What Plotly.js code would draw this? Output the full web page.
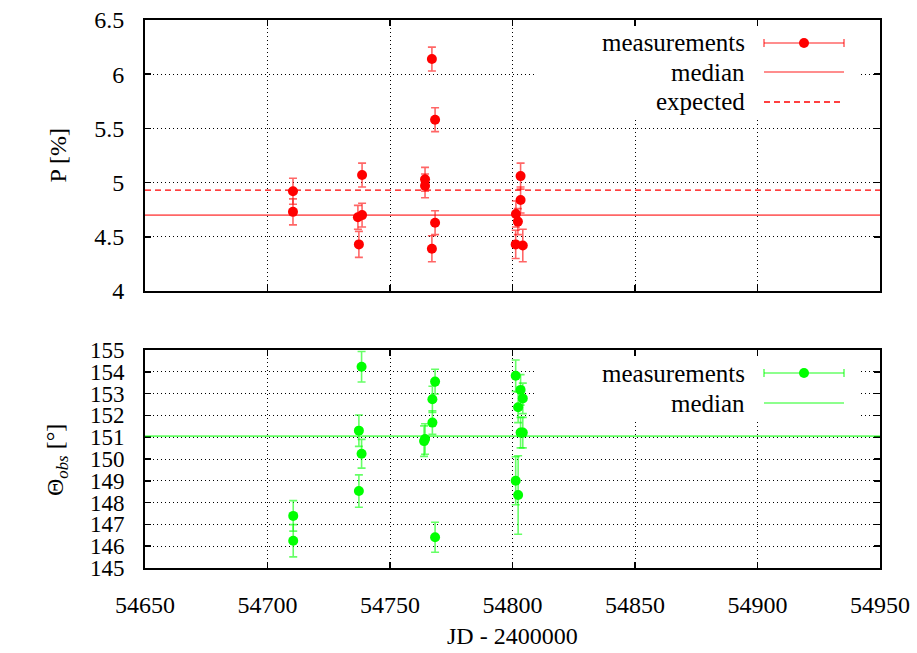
<!DOCTYPE html>
<html>
<head>
<meta charset="utf-8">
<script src="https://cdn.plot.ly/plotly-3.0.1.min.js"></script>
<style>html,body{margin:0;padding:0;background:#fff;}#chart{width:917px;height:653px;}</style>
</head>
<body>
<div id="chart"></div>
<script>
// ---- data ----
const JD_P = [54710.4, 54710.4, 54738.6, 54738.6, 54736.9, 54737.3,
              54767.1, 54768.4, 54764.3, 54764.3, 54768.4, 54767.1,
              54803.3, 54803.3, 54801.4, 54802.2, 54801.3, 54804.2];
const P = [4.92, 4.73, 5.07, 4.70, 4.68, 4.43,
           6.14, 5.58, 5.03, 4.97, 4.63, 4.39,
           5.06, 4.84, 4.71, 4.64, 4.43, 4.42];
const P_ERR = [0.12, 0.12, 0.11, 0.11, 0.11, 0.12,
               0.11, 0.11, 0.11, 0.11, 0.11, 0.12,
               0.12, 0.12, 0.12, 0.12, 0.13, 0.15];
const P_MEDIAN = 4.70;
const P_EXPECTED = 4.93;

const JD_T = [54710.5, 54710.5, 54738.4, 54737.3, 54738.4, 54737.3,
              54768.4, 54767.3, 54767.3, 54764.3, 54763.9, 54768.4,
              54801.3, 54801.3, 54802.3, 54802.3, 54803.3, 54803.3, 54804.2, 54804.2];
const THETA = [147.39, 146.25, 154.23, 151.30, 150.24, 148.53,
               153.55, 152.74, 151.67, 150.92, 150.82, 146.41,
               153.82, 149.00, 152.37, 148.35, 153.17, 151.21, 152.78, 151.21];
const THETA_ERR = [0.70, 0.74, 0.70, 0.72, 0.66, 0.74,
                   0.57, 0.60, 0.54, 0.70, 0.70, 0.69,
                   0.72, 1.10, 0.70, 1.80, 0.70, 0.70, 0.70, 0.70];
const THETA_MEDIAN = 151.05;

const X_RANGE = [54650, 54950];
const P_RANGE = [4, 6.5];
const T_RANGE = [145, 155];

// ---- styling ----
const FONT = 'Liberation Serif';
const FS = 24;
const RED = '#ff0000', RED_L = 'rgba(255,0,0,0.6)';
const GRN = '#00ff00', GRN_L = 'rgba(0,255,0,0.6)';

const L = 145, R = 37, T = 20, B = 85, W = 917, H = 653;
const PW = W - L - R, PH = H - T - B;
const px = x => (x - L) / PW;
const py = y => (H - B - y) / PH;

const traces = [
  {
    x: JD_P, y: P, xaxis: 'x', yaxis: 'y', type: 'scatter', mode: 'markers',
    marker: {color: RED, size: 10},
    error_y: {type: 'data', array: P_ERR, visible: true, color: RED_L, thickness: 1.6, width: 4},
    showlegend: false, hoverinfo: 'x+y'
  },
  {
    x: JD_T, y: THETA, xaxis: 'x2', yaxis: 'y2', type: 'scatter', mode: 'markers',
    marker: {color: GRN, size: 10},
    error_y: {type: 'data', array: THETA_ERR, visible: true, color: GRN_L, thickness: 1.6, width: 4},
    showlegend: false, hoverinfo: 'x+y'
  }
];

const axCommon = {
  showline: true, linecolor: '#000', linewidth: 2, mirror: 'ticks',
  ticks: 'inside', ticklen: 6, tickwidth: 1.5, tickcolor: '#000',
  showgrid: true, gridcolor: '#000', gridwidth: 1, griddash: '1px,3px',
  zeroline: false, tickfont: {family: FONT, size: FS, color: '#000'}
};

const shapes = [];
// opaque key boxes (hide the grid behind the keys)
shapes.push({type: 'rect', xref: 'paper', yref: 'paper', x0: px(535), x1: px(860), y0: py(117), y1: py(27),
             fillcolor: '#fff', line: {width: 0}});
shapes.push({type: 'rect', xref: 'paper', yref: 'paper', x0: px(535), x1: px(860), y0: py(420), y1: py(357),
             fillcolor: '#fff', line: {width: 0}});
// median / expected lines
shapes.push({type: 'line', xref: 'x domain', yref: 'y', x0: 0, x1: 1, y0: P_MEDIAN, y1: P_MEDIAN,
             line: {color: RED_L, width: 1.6}});
shapes.push({type: 'line', xref: 'x domain', yref: 'y', x0: 0, x1: 1, y0: P_EXPECTED, y1: P_EXPECTED,
             line: {color: RED, width: 1.3, dash: '6px,4px'}});
shapes.push({type: 'line', xref: 'x2 domain', yref: 'y2', x0: 0, x1: 1, y0: THETA_MEDIAN, y1: THETA_MEDIAN,
             line: {color: GRN_L, width: 1.6}});

function keyErr(yc, col, colL) {
  shapes.push({type: 'line', xref: 'paper', yref: 'paper', x0: px(764), x1: px(844), y0: py(yc), y1: py(yc), line: {color: colL, width: 1.6}});
  shapes.push({type: 'line', xref: 'paper', yref: 'paper', x0: px(764), x1: px(764), y0: py(yc - 4), y1: py(yc + 4), line: {color: colL, width: 1.6}});
  shapes.push({type: 'line', xref: 'paper', yref: 'paper', x0: px(844), x1: px(844), y0: py(yc - 4), y1: py(yc + 4), line: {color: colL, width: 1.6}});
  shapes.push({type: 'circle', xref: 'paper', yref: 'paper', x0: px(799), x1: px(809), y0: py(yc + 5), y1: py(yc - 5), fillcolor: col, line: {color: col, width: 0}});
}
function keyLine(yc, col, dash) {
  shapes.push({type: 'line', xref: 'paper', yref: 'paper', x0: px(764), x1: px(844), y0: py(yc), y1: py(yc), line: {color: col, width: dash ? 1.3 : 1.6, dash: dash || 'solid'}});
}
keyErr(43, RED, RED_L); keyLine(72, RED_L); keyLine(102, RED, '6px,4px');
keyErr(373, GRN, GRN_L); keyLine(403, GRN_L);

const ann = (text, x, y, extra) => Object.assign({
  text: text, xref: 'paper', yref: 'paper', x: x, y: y, showarrow: false,
  xanchor: 'right', yanchor: 'middle', font: {family: FONT, size: 25, color: '#000'}
}, extra || {});

const annotations = [
  ann('measurements', px(747), py(43)),
  ann('median', px(747), py(72)),
  ann('expected', px(747), py(102)),
  ann('measurements', px(747), py(373)),
  ann('median', px(747), py(403)),
  ann('P [%]', px(57), py(155.5), {xanchor: 'center', textangle: -90, font: {family: FONT, size: FS, color: '#000'}}),
  ann('Θ<sub><i>obs</i></sub> [°]', px(57), py(460), {xanchor: 'center', textangle: -90, font: {family: FONT, size: FS, color: '#000'}}),
  ann('JD - 2400000', px(512.5), py(636), {xanchor: 'center', font: {family: FONT, size: FS, color: '#000'}})
];

const layout = {
  width: W, height: H,
  margin: {l: L, r: R, t: T, b: B},
  paper_bgcolor: '#fff', plot_bgcolor: '#fff',
  showlegend: false,
  font: {family: FONT, size: FS, color: '#000'},
  xaxis: Object.assign({}, axCommon, {domain: [0, 1], anchor: 'y', range: X_RANGE, dtick: 50, tick0: 54650,
                       showticklabels: false, tickformat: 'd'}),
  yaxis: Object.assign({}, axCommon, {domain: [py(291), 1], anchor: 'x', range: P_RANGE, dtick: 0.5, tick0: 4,
                       ticklabelstandoff: 14}),
  xaxis2: Object.assign({}, axCommon, {domain: [0, 1], anchor: 'y2', range: X_RANGE, dtick: 50, tick0: 54650,
                        tickformat: 'd', matches: 'x', ticklabelstandoff: 14}),
  yaxis2: Object.assign({}, axCommon, {domain: [0, py(350)], anchor: 'x2', range: T_RANGE, dtick: 1, tick0: 145,
                        ticklabelstandoff: 14, tickfont: {family: FONT, size: 23, color: '#000'}}),
  shapes: shapes,
  annotations: annotations
};

Plotly.newPlot('chart', traces, layout, {staticPlot: true, displayModeBar: false});
</script>
</body>
</html>
